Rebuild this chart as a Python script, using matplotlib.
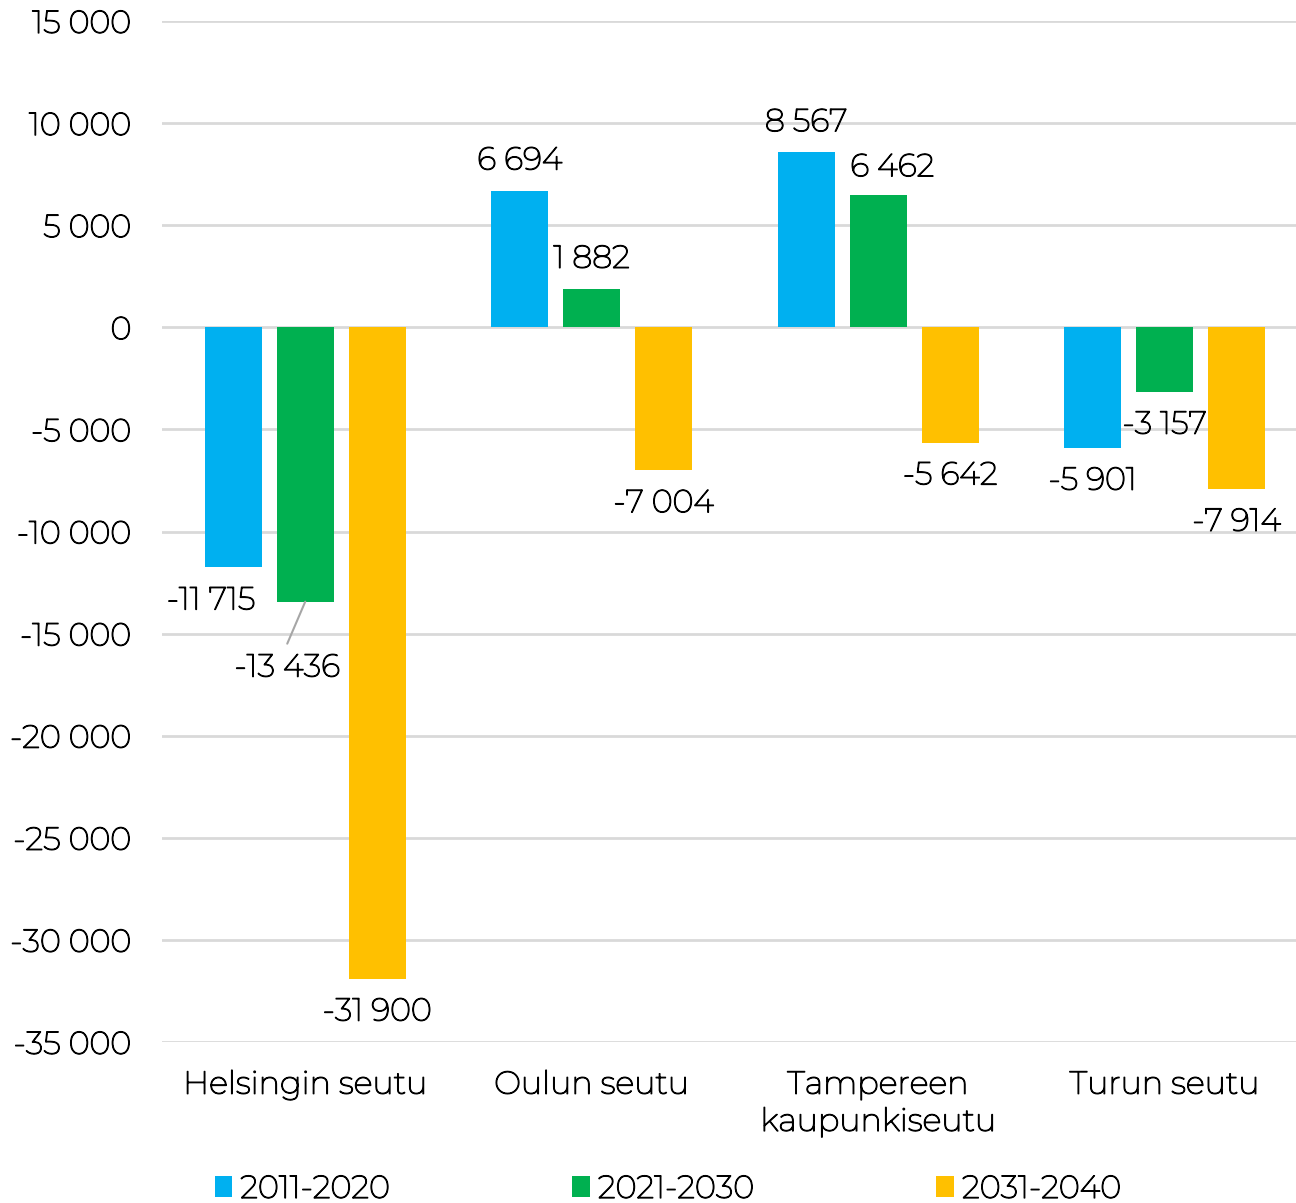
import matplotlib.pyplot as plt
import matplotlib.patheffects as pe
import numpy as np
from matplotlib.ticker import FuncFormatter

plt.rcParams["font.family"] = ["Montserrat", "DejaVu Sans"]
plt.rcParams["font.weight"] = 500

# data
regions = ["Helsingin seutu", "Oulun seutu", "Tampereen\nkaupunkiseutu", "Turun seutu"]
periods = ["2011-2020", "2021-2030", "2031-2040"]
v_2011_2020 = [-11715, 6694, 8567, -5901]
v_2021_2030 = [-13436, 1882, 6462, -3157]
v_2031_2040 = [-31900, -7004, -5642, -7914]
colors = ["#00B0F0", "#00B050", "#FFC000"]

series = [v_2011_2020, v_2021_2030, v_2031_2040]

# label offsets in pixels (dx, dy) relative to bar end, where not default
label_shift = {
    (0, 0): (-22, -34),
    (0, 1): (-18, -66),
    (2, 1): (14, 28),
}
FS = 23
# the installed Montserrat is very light, thicken the strokes a bit
bold = [pe.withStroke(linewidth=0.9, foreground="black")]


def fmt(v):
    s = f"{abs(v):,}".replace(",", " ")
    return ("-" if v < 0 else "") + s


fig = plt.figure(figsize=(12.96, 12.03), dpi=100)
ax = fig.add_axes([162 / 1296, 1 - 1042 / 1203, 1146 / 1296, 1021 / 1203])

x = np.arange(len(regions))
offset = 0.2513
width = 0.199

for j, (vals, col) in enumerate(zip(series, colors)):
    xs = x + (j - 1) * offset
    ax.bar(xs, vals, width=width, color=col, label=periods[j], zorder=3)
    for i, v in enumerate(vals):
        default = (0, 30) if v > 0 else (0, -33)
        dx, dy = label_shift.get((i, j), default)
        ax.annotate(fmt(v), xy=(xs[i], v), xytext=(dx, dy),
                    textcoords="offset pixels", ha="center", va="center",
                    fontsize=FS, color="#000000", zorder=4, path_effects=bold)

# leader line for the shifted Helsinki label
hx = x[0]
ax.annotate("", xy=(hx, v_2021_2030[0]), xytext=(-18, -42),
            textcoords="offset pixels",
            arrowprops=dict(arrowstyle="-", color="#A6A6A6", lw=1.5,
                            shrinkA=0, shrinkB=0), zorder=4)

ax.set_ylim(-35000, 15000)
ax.set_xlim(-0.5, 3.5)
ax.set_yticks(np.arange(-35000, 15001, 5000))
ax.yaxis.set_major_formatter(FuncFormatter(lambda v, p: fmt(int(v))))
ax.set_xticks(x)
ax.set_xticklabels(regions, fontsize=FS, linespacing=1.3)
ax.tick_params(axis="y", length=0, pad=22, labelsize=FS)
ax.tick_params(axis="x", length=0, pad=20)
for t in ax.get_xticklabels() + ax.get_yticklabels():
    t.set_path_effects(bold)
ax.grid(axis="y", color="#D9D9D9", lw=2, zorder=0)
for s in ax.spines.values():
    s.set_visible(False)

leg = fig.legend(loc="center", bbox_to_anchor=(668 / 1296, 1 - 1189 / 1203),
                 ncol=3, frameon=False, fontsize=FS, handlelength=0.55,
                 handleheight=0.65, handletextpad=0.25, columnspacing=5.7)
for t in leg.get_texts():
    t.set_path_effects(bold)

fig.savefig("out.png", dpi=100)
